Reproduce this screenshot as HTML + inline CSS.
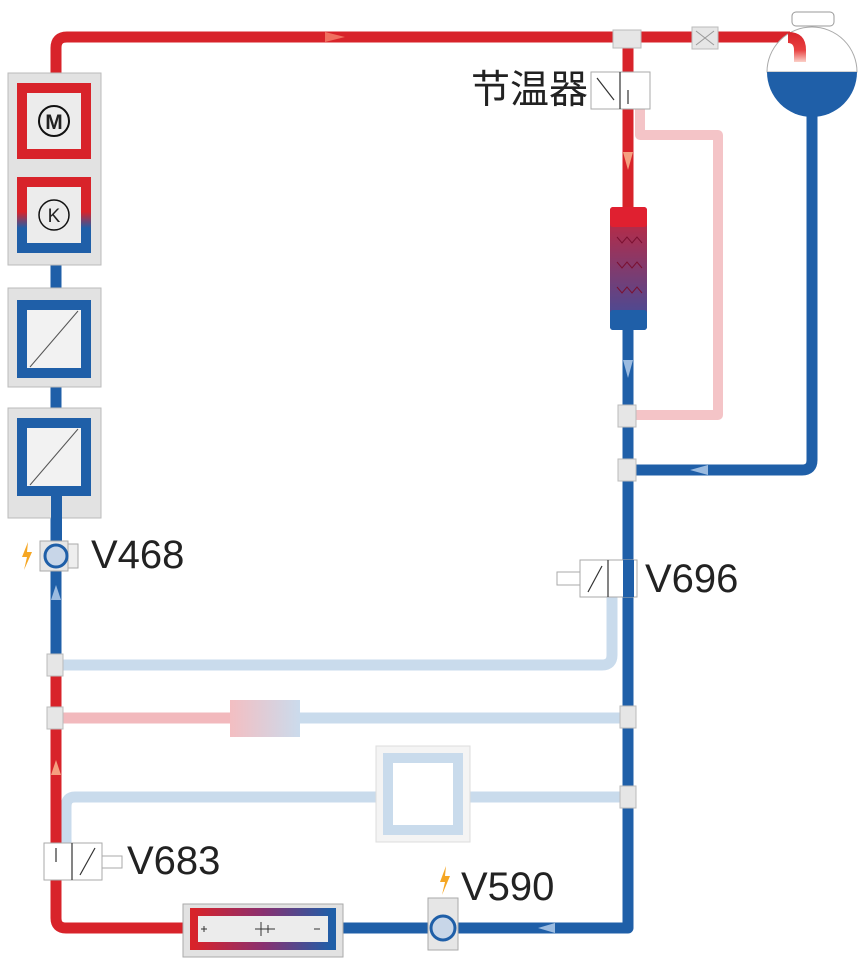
<!DOCTYPE html>
<html><head><meta charset="utf-8"><style>
html,body{margin:0;padding:0;background:#fff;}
svg{display:block}
text{font-family:"Liberation Sans","Noto Sans CJK SC",sans-serif;fill:#222}
</style></head><body>
<svg width="862" height="962" viewBox="0 0 862 962" xmlns="http://www.w3.org/2000/svg">
<defs>
<linearGradient id="kgrad" x1="0" y1="0" x2="0" y2="1">
<stop offset="0" stop-color="#d8232a"/><stop offset="0.45" stop-color="#d8232a"/><stop offset="0.7" stop-color="#1f5fa8"/><stop offset="1" stop-color="#1f5fa8"/></linearGradient>
<linearGradient id="cool" x1="0" y1="0" x2="0" y2="1">
<stop offset="0" stop-color="#c8263a"/><stop offset="1" stop-color="#3a4fa0"/></linearGradient>
<linearGradient id="bat" x1="0" y1="0" x2="1" y2="0">
<stop offset="0" stop-color="#d8232a"/><stop offset="0.5" stop-color="#8a3070"/><stop offset="1" stop-color="#1f5fa8"/></linearGradient>
<linearGradient id="pb" x1="0" y1="0" x2="1" y2="0">
<stop offset="0" stop-color="#f2b7bb"/><stop offset="1" stop-color="#c5d7ea"/></linearGradient>
<linearGradient id="res" x1="0" y1="0" x2="0" y2="1">
<stop offset="0" stop-color="#d8232a"/><stop offset="0.6" stop-color="#e84040"/><stop offset="1" stop-color="#fbd0c8"/></linearGradient>
</defs>
<g fill="none" stroke-linecap="butt" stroke-linejoin="round">
<path d="M640 108 V135 H718 V415 H628" stroke="#f4c4c7" stroke-width="10"/>
<path d="M612 597 V655 Q612 665 602 665 H56" stroke="#c9dbec" stroke-width="11"/>
<path d="M56 718 H230" stroke="#f2b9bd" stroke-width="11"/>
<path d="M300 718 H628" stroke="#c9dbec" stroke-width="11"/>
<path d="M628 797 H75 Q66 797 66 807 V843" stroke="#c9dbec" stroke-width="11"/>
<path d="M56 80 V48 Q56 37 67 37 H790" stroke="#d8232a" stroke-width="11"/>
<path d="M628 37 V215" stroke="#d8232a" stroke-width="11"/>
<path d="M628 320 V928" stroke="#1f5fa8" stroke-width="11"/>
<path d="M812 115 V460 Q812 470 802 470 H628" stroke="#1f5fa8" stroke-width="11"/>
<path d="M56 150 V185" stroke="#d8232a" stroke-width="11"/>
<path d="M56 250 V665" stroke="#1f5fa8" stroke-width="11"/>
<path d="M56 665 V918 Q56 928 66 928 H190" stroke="#d8232a" stroke-width="11"/>
<path d="M335 928 H628 V900" stroke="#1f5fa8" stroke-width="11"/>
</g>
<path d="M325 32 L345 37 L325 42 Z" fill="#f07060"/>
<path d="M623 152 L633 152 L628 170 Z" fill="#f5a080"/>
<path d="M623 360 L633 360 L628 378 Z" fill="#9bbbe0"/>
<path d="M708 465 L690 470 L708 475 Z" fill="#9bbbe0"/>
<path d="M51 600 L61 600 L56 585 Z" fill="#9bbbe0"/>
<path d="M51 775 L61 775 L56 760 Z" fill="#f5a080"/>
<path d="M555 923 L538 928 L555 933 Z" fill="#9bbbe0"/>
<g fill="#e6e6e6" stroke="#bbb" stroke-width="1">
<rect x="613" y="30" width="28" height="18"/>
<rect x="618" y="405" width="18" height="22"/>
<rect x="618" y="459" width="18" height="22"/>
<rect x="620" y="706" width="16" height="22"/>
<rect x="620" y="786" width="16" height="22"/>
<rect x="47" y="654" width="16" height="22"/>
<rect x="47" y="707" width="16" height="22"/>
<rect x="692" y="27" width="26" height="22"/>
</g>
<path d="M696 31 L714 45 M714 31 L696 45" stroke="#999" stroke-width="1"/>
<rect x="792" y="12" width="42" height="14" rx="4" fill="#fff" stroke="#999"/>
<path d="M767 72 A45 45 0 0 1 857 72 Z" fill="#fff" stroke="#aaa"/>
<path d="M767 72 A45 45 0 0 0 857 72 Z" fill="#1f5fa8"/>
<path d="M788 32 Q806 32 806 50 L806 62 L794 62 L794 50 Q794 43 788 43 Z" fill="url(#res)"/>
<rect x="8" y="73" width="93" height="192" fill="#e2e2e2" stroke="#bbb"/>
<rect x="22" y="88" width="64" height="66" fill="#ececec" stroke="#d8232a" stroke-width="10"/>
<rect x="22" y="182" width="64" height="66" fill="#ececec" stroke="url(#kgrad)" stroke-width="10"/>
<circle cx="54" cy="121" r="15" fill="none" stroke="#111" stroke-width="2"/>
<text x="54" y="129" text-anchor="middle" font-size="21" font-weight="bold">M</text>
<circle cx="54" cy="215" r="15" fill="none" stroke="#111" stroke-width="1.5"/>
<text x="54" y="222" text-anchor="middle" font-size="19">K</text>
<rect x="8" y="288" width="93" height="99" fill="#e2e2e2" stroke="#bbb"/>
<rect x="22" y="305" width="64" height="68" fill="#f2f2f2" stroke="#1f5fa8" stroke-width="10"/>
<path d="M30 367 L78 311" stroke="#555" stroke-width="1"/>
<rect x="8" y="408" width="93" height="110" fill="#e2e2e2" stroke="#bbb"/>
<rect x="22" y="423" width="64" height="68" fill="#f2f2f2" stroke="#1f5fa8" stroke-width="10"/>
<path d="M30 485 L78 429" stroke="#555" stroke-width="1"/>
<rect x="51" y="491" width="11" height="52" fill="#1f5fa8"/>
<rect x="40" y="541" width="28" height="30" fill="#e6e6e6" stroke="#aaa"/>
<rect x="68" y="544" width="10" height="24" fill="#eee" stroke="#aaa"/>
<circle cx="56" cy="556" r="11" fill="#c8d6e8" stroke="#1f5fa8" stroke-width="3"/>
<path d="M28 542 L22 557 L27 557 L24 570 L32 552 L27 552 Z" fill="#f5a623"/>
<text x="91" y="568" font-size="40">V468</text>
<rect x="591" y="72" width="59" height="37" fill="#fff" stroke="#aaa"/>
<path d="M620 72 V109 M597 78 L614 100 M628 90 V104" stroke="#333" stroke-width="1.2"/>
<text x="588" y="103" text-anchor="end" font-size="39">节温器</text>
<rect x="610" y="207" width="37" height="123" rx="3" fill="url(#cool)"/>
<rect x="610" y="207" width="37" height="20" rx="3" fill="#e02030"/>
<rect x="610" y="310" width="37" height="20" rx="3" fill="#1f5fa8"/>
<path d="M617 237 l5 6 l5 -6 l5 6 l5 -6 l5 6 M617 262 l5 6 l5 -6 l5 6 l5 -6 l5 6 M617 287 l5 6 l5 -6 l5 6 l5 -6 l5 6" stroke="#7a1030" fill="none" stroke-width="1"/>
<rect x="580" y="560" width="57" height="37" fill="#fff" stroke="#aaa"/>
<rect x="557" y="572" width="23" height="13" fill="#fff" stroke="#aaa"/>
<rect x="623" y="560" width="11" height="37" fill="#1f5fa8"/>
<path d="M608 560 V597 M588 592 L602 566" stroke="#333" stroke-width="1.2"/>
<text x="645" y="592" font-size="40">V696</text>
<rect x="230" y="700" width="70" height="37" fill="url(#pb)" opacity="0.9"/>
<rect x="376" y="746" width="94" height="96" fill="#f4f4f4" stroke="#ddd"/>
<rect x="388" y="758" width="70" height="72" fill="#fff" stroke="#c9dbec" stroke-width="10"/>
<rect x="44" y="843" width="58" height="37" fill="#fff" stroke="#aaa"/>
<rect x="102" y="856" width="20" height="12" fill="#fff" stroke="#aaa"/>
<path d="M72 843 V880 M80 875 L95 848 M56 848 V862" stroke="#333" stroke-width="1.2"/>
<text x="127" y="874" font-size="40">V683</text>
<rect x="183" y="904" width="160" height="53" fill="#e2e2e2" stroke="#aaa"/>
<rect x="194" y="912" width="138" height="34" fill="#ececec" stroke="url(#bat)" stroke-width="8"/>
<path d="M201 929 h6 M204 926 v6 M255 929 h12 M261 922 v14 M267 929 h8 M268 925 v8 M314 929 h6" stroke="#333" stroke-width="1"/>
<rect x="428" y="898" width="30" height="52" fill="#e6e6e6" stroke="#aaa"/>
<circle cx="443" cy="928" r="12" fill="#c8d6e8" stroke="#1f5fa8" stroke-width="3"/>
<path d="M446 866 L440 882 L445 882 L442 895 L450 876 L445 876 Z" fill="#f5a623"/>
<text x="461" y="900" font-size="40">V590</text>
</svg>
</body></html>
